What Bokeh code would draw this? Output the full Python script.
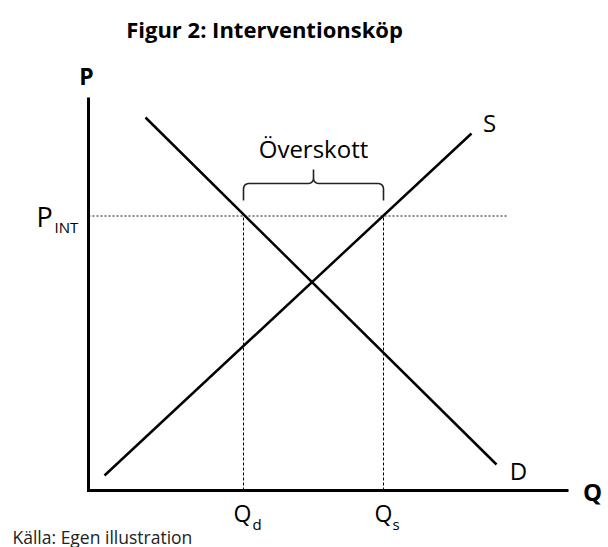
import numpy as np
from bokeh.plotting import figure
from bokeh.models import Range1d
from bokeh.core.properties import value
from bokeh.embed import file_html
from bokeh.resources import INLINE

# ---- schematic data (units: offsets from the axis origin) ----
q_demand = [57, 408]
p_demand = [373, 26]
q_supply = [16, 383]
p_supply = [15, 357]
p_int = 275
q_d = 155
q_s = 295
q_axis_max = 480
p_axis_max = 393
p_int_line_end = 419
brace_bottom = 290
brace_mid = 307
brace_top = 321

title = "Figur 2: Interventionsköp"
source = "Källa: Egen illustration"
surplus_label = "Överskott"

FONT = value("Open Sans")

W, H = 608, 547
p = figure(width=W, height=H, x_range=Range1d(-88, 520), y_range=Range1d(-57, 490),
           output_backend="svg", toolbar_location=None, min_border=0,
           x_axis_location=None, y_axis_location=None)
p.grid.visible = False
p.outline_line_color = None
p.background_fill_color = "white"
p.border_fill_color = "white"

# axes
p.line([0, 0, q_axis_max], [p_axis_max, 0, 0], line_width=3, line_color="black",
       line_join="miter")

# supply and demand
p.line(q_demand, p_demand, line_width=2.5, line_color="black")
p.line(q_supply, p_supply, line_width=2.5, line_color="black")

# intervention price line
p.line([0, p_int_line_end], [p_int - 0.5, p_int - 0.5], line_width=1,
       line_color="#111111", line_dash="2 2")
# quantities
p.segment(x0=[q_d, q_s], y0=[0, 0], x1=[q_d, q_s], y1=[p_int, p_int],
          line_width=1, line_color="black", line_dash="3 2")


# brace
def quad(p0, c, p1, n=12):
    t = np.linspace(0, 1, n)
    x = (1 - t) ** 2 * p0[0] + 2 * (1 - t) * t * c[0] + t ** 2 * p1[0]
    y = (1 - t) ** 2 * p0[1] + 2 * (1 - t) * t * c[1] + t ** 2 * p1[1]
    return list(x), list(y)


r = 6
xc = (q_d + q_s) / 2
bx, by = [q_d], [brace_bottom]
for seg in [
    quad((q_d, brace_mid - r), (q_d, brace_mid), (q_d + r, brace_mid)),
    quad((xc - r, brace_mid), (xc, brace_mid), (xc, brace_mid + r)),
]:
    bx += seg[0]
    by += seg[1]
bx.append(xc)
by.append(brace_top)
for seg in [
    quad((xc, brace_mid + r), (xc, brace_mid), (xc + r, brace_mid)),
    quad((q_s - r, brace_mid), (q_s, brace_mid), (q_s, brace_mid - r)),
]:
    bx += seg[0]
    by += seg[1]
bx.append(q_s)
by.append(brace_bottom)
p.line(bx, by, line_width=1.6, line_color="#222222")


def txt(x, y, s, size, align="center", bold=False, color="black"):
    # compensate for the renderer's baseline offset (about 0.4 em)
    y = y + 0.4 * size
    p.text(x=[x], y=[y], text=[s], text_font=FONT, text_font_size=value(f"{size}px"),
           text_align=align, text_baseline="alphabetic", text_color=color,
           text_font_style="bold" if bold else "normal")


# screen -> data helpers (data x = sx - 88, data y = 490 - sy)
def X(sx):
    return sx - 88


def Y(sy):
    return 490 - sy


txt(X(264), Y(37), title, 22, bold=True)
txt(X(86), Y(85), "P", 23, bold=True)
txt(X(592), Y(501), "Q", 24, bold=True)
txt(X(489), Y(132), "S", 24)
txt(X(518), Y(480), "D", 24)
txt(xc, Y(158), surplus_label, 24)
txt(X(36), Y(227), "P", 27, align="left")
txt(X(54), Y(232), "INT", 15, align="left")
txt(q_d - 10, Y(522), "Q", 23, align="left")
txt(q_d + 9, Y(529), "d", 15, align="left")
txt(q_s - 9, Y(522), "Q", 23, align="left")
txt(q_s + 9, Y(529), "s", 15, align="left")
txt(X(12), Y(543), source, 17.5, align="left", color="#222222")

open("out.html", "w").write(file_html(p, INLINE))
